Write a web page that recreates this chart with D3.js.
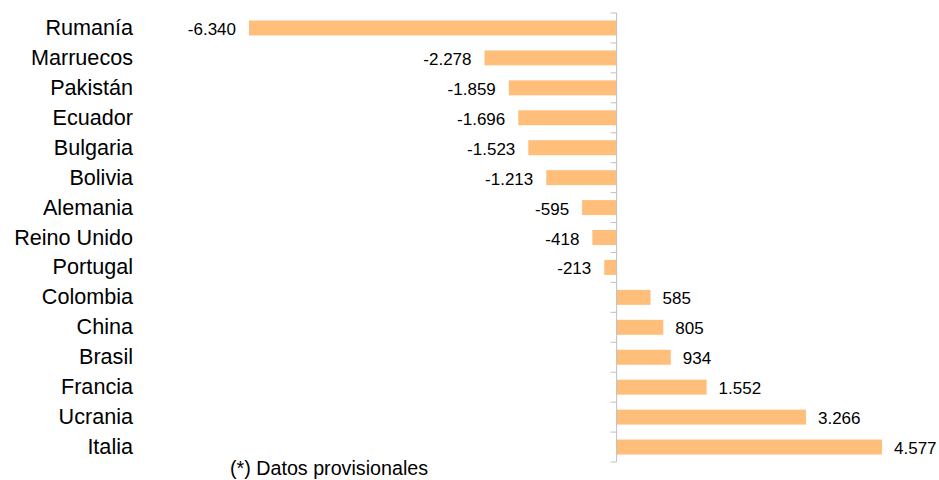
<!DOCTYPE html>
<html>
<head>
<meta charset="utf-8">
<script src="https://cdn.jsdelivr.net/npm/d3@7"></script>
<style>
    body { margin: 0; background: #fff; }
    text { font-family: "Liberation Sans", Arial, sans-serif; fill: #000; }
</style>
</head>
<body>
<div id="chart"></div>
<script>
const dimensions = { width: 939, height: 480 };

// data
const countries = ['Rumanía', 'Marruecos', 'Pakistán', 'Ecuador', 'Bulgaria', 'Bolivia', 'Alemania',
    'Reino Unido', 'Portugal', 'Colombia', 'China', 'Brasil', 'Francia', 'Ucrania', 'Italia'];
const values = [-6340, -2278, -1859, -1696, -1523, -1213, -595, -418, -213, 585, 805, 934, 1552, 3266, 4577];
const valueLabels = ['-6.340', '-2.278', '-1.859', '-1.696', '-1.523', '-1.213', '-595', '-418', '-213',
    '585', '805', '934', '1.552', '3.266', '4.577'];
const footnote = '(*) Datos provisionales';

const data = countries.map((c, i) => ({ country: c, value: values[i], label: valueLabels[i] }));

const svg = d3.select('#chart')
    .append('svg')
    .attr('width', dimensions.width)
    .attr('height', dimensions.height);

// scales
const x = d3.scaleLinear().domain([-6340, 4577]).range([249, 882]);
const y = d3.scaleBand()
    .domain(countries)
    .range([13, 462])
    .paddingInner(0.5)
    .paddingOuter(0.25);

const step = y.step();
const zeroX = x(0);

// bars
svg.selectAll('rect.bar')
    .data(data)
    .enter()
    .append('rect')
        .attr('class', 'bar')
        .attr('x', d => x(Math.min(0, d.value)))
        .attr('y', d => y(d.country))
        .attr('width', d => Math.abs(x(d.value) - zeroX))
        .attr('height', y.bandwidth())
        .attr('fill', '#FFBE7A');

// zero axis with ticks at category boundaries
const axisColor = '#BFBFBF';
svg.append('line')
    .attr('x1', zeroX).attr('x2', zeroX)
    .attr('y1', y.range()[0]).attr('y2', y.range()[1])
    .attr('stroke', axisColor)
    .attr('stroke-width', 1);

const boundaries = d3.range(countries.length + 1).map(i => y.range()[0] + i * step);
svg.selectAll('line.tick')
    .data(boundaries)
    .enter()
    .append('line')
        .attr('class', 'tick')
        .attr('x1', zeroX - 6).attr('x2', zeroX)
        .attr('y1', d => d).attr('y2', d => d)
        .attr('stroke', axisColor)
        .attr('stroke-width', 1);

// category labels
svg.selectAll('text.cat')
    .data(data)
    .enter()
    .append('text')
        .attr('class', 'cat')
        .attr('x', 133)
        .attr('y', d => y(d.country) + y.bandwidth() / 2 + 7)
        .attr('text-anchor', 'end')
        .style('font-size', '21.6px')
        .text(d => d.country);

// value labels
svg.selectAll('text.val')
    .data(data)
    .enter()
    .append('text')
        .attr('class', 'val')
        .attr('x', d => d.value < 0 ? x(d.value) - 13 : x(d.value) + 12)
        .attr('y', d => y(d.country) + y.bandwidth() / 2 + 7)
        .attr('text-anchor', d => d.value < 0 ? 'end' : 'start')
        .style('font-size', '17px')
        .text(d => d.label);

// footnote
svg.append('text')
    .attr('x', 230)
    .attr('y', 475)
    .style('font-size', '19.7px')
    .text(footnote);
</script>
</body>
</html>
